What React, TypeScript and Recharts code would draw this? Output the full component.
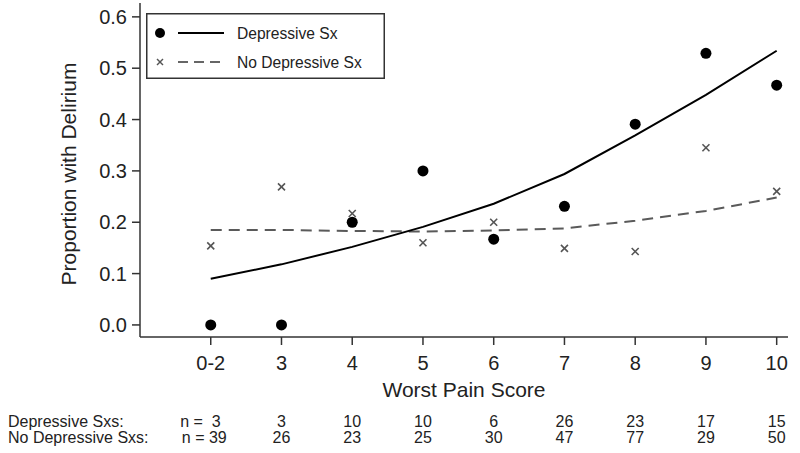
import React from 'react';
import { ComposedChart, Line, XAxis, YAxis } from 'recharts';

const categories = ['0-2', '3', '4', '5', '6', '7', '8', '9', '10'];
const depObserved = [0, 0, 0.2, 0.3, 0.167, 0.231, 0.391, 0.529, 0.467];
const noDepObserved = [0.154, 0.269, 0.217, 0.16, 0.2, 0.149, 0.143, 0.345, 0.26];
const depFitted = [0.09, 0.118, 0.152, 0.191, 0.236, 0.294, 0.369, 0.448, 0.534];
const noDepFitted = [0.185, 0.185, 0.183, 0.182, 0.184, 0.188, 0.203, 0.222, 0.248];
const depN = [3, 3, 10, 10, 6, 26, 23, 17, 15];
const noDepN = [39, 26, 23, 25, 30, 47, 77, 29, 50];
const yTicks = [0, 0.1, 0.2, 0.3, 0.4, 0.5, 0.6];
const legendLabels = ['Depressive Sx', 'No Depressive Sx'];

const data = categories.map((c, i) => ({
  x: i,
  dep: depObserved[i],
  noDep: noDepObserved[i],
  depFit: depFitted[i],
  noDepFit: noDepFitted[i],
}));

const FONT = '"Liberation Sans", Arial, Helvetica, sans-serif';
const AXIS = '#333';
const TEXT = '#222';

const DotMark = (props: any) => {
  const { cx, cy, index } = props;
  if (cx == null || cy == null) return <g key={`d${index}`} />;
  return <circle key={`d${index}`} cx={cx} cy={cy} r={5.5} fill="#000" />;
};

const CrossMark = (props: any) => {
  const { cx, cy, index } = props;
  if (cx == null || cy == null) return <g key={`c${index}`} />;
  const s = 3.5;
  return (
    <g key={`c${index}`} stroke="#555" strokeWidth={1.6}>
      <line x1={cx - s} y1={cy - s} x2={cx + s} y2={cy + s} />
      <line x1={cx - s} y1={cy + s} x2={cx + s} y2={cy - s} />
    </g>
  );
};

const XTick = (props: any) => {
  const { x, y, payload } = props;
  const i = payload.value as number;
  const common = { fontFamily: FONT, fill: TEXT } as any;
  return (
    <g>
      <text x={x} y={y + 14} textAnchor="middle" fontSize={20} {...common}>
        {categories[i]}
      </text>
      {i === 0 ? (
        <>
          <text x={8} y={y + 70.7} textAnchor="start" fontSize={16} {...common}>
            Depressive Sxs:
          </text>
          <text x={8} y={y + 87} textAnchor="start" fontSize={16} {...common}>
            No Depressive Sxs:
          </text>
          <text x={x + 10} y={y + 70.7} textAnchor="end" fontSize={16} style={{ whiteSpace: 'pre' }} {...common}>
            {`n =  ${depN[i]}`}
          </text>
          <text x={x + 16} y={y + 87} textAnchor="end" fontSize={16} style={{ whiteSpace: 'pre' }} {...common}>
            {`n = ${noDepN[i]}`}
          </text>
        </>
      ) : (
        <>
          <text x={x} y={y + 70.7} textAnchor="middle" fontSize={16} {...common}>
            {depN[i]}
          </text>
          <text x={x} y={y + 87} textAnchor="middle" fontSize={16} {...common}>
            {noDepN[i]}
          </text>
        </>
      )}
    </g>
  );
};

const LegendBox = () => (
  <g transform="translate(146, 13)">
    <rect x={0.75} y={0.75} width={237.5} height={64.5} fill="#fff" stroke={AXIS} strokeWidth={1.5} />
    <circle cx={14} cy={20} r={5} fill="#000" />
    <line x1={32} y1={20} x2={78} y2={20} stroke="#000" strokeWidth={2} />
    <text x={91} y={25.5} fontSize={15.6} fontFamily={FONT} fill={TEXT}>{legendLabels[0]}</text>
    <g stroke="#555" strokeWidth={1.4}>
      <line x1={11} y1={46} x2={17} y2={52} />
      <line x1={11} y1={52} x2={17} y2={46} />
    </g>
    <line x1={32} y1={49} x2={78} y2={49} stroke="#666" strokeWidth={2} strokeDasharray="10 6" />
    <text x={91} y={54.5} fontSize={15.6} fontFamily={FONT} fill={TEXT}>{legendLabels[1]}</text>
  </g>
);

export default function App() {
  return (
    <div style={{ position: 'absolute', left: 0, top: 0, width: 800, height: 453, background: '#fff' }}>
      <ComposedChart width={800} height={453} data={data} margin={{ top: 3, right: 12, left: 0, bottom: 0 }}>
        <XAxis
          dataKey="x"
          type="number"
          domain={[-1, 8.16]}
          ticks={[0, 1, 2, 3, 4, 5, 6, 7, 8]}
          interval={0}
          allowDataOverflow
          height={116}
          tickSize={8}
          tickMargin={11}
          tick={<XTick />}
          axisLine={{ stroke: AXIS, strokeWidth: 1.5 }}
          tickLine={{ stroke: AXIS, strokeWidth: 1.5 }}
          label={{
            value: 'Worst Pain Score',
            position: 'insideTop',
            offset: 45,
            fontSize: 21,
            fontFamily: FONT,
            fill: TEXT,
          }}
        />
        <YAxis
          type="number"
          domain={[-0.0235, 0.627]}
          ticks={yTicks}
          allowDataOverflow
          width={140}
          tickSize={8}
          tickMargin={5}
          tickFormatter={(v: number) => v.toFixed(1)}
          tick={{ fontSize: 20, fontFamily: FONT, fill: TEXT }}
          axisLine={{ stroke: AXIS, strokeWidth: 1.5 }}
          tickLine={{ stroke: AXIS, strokeWidth: 1.5 }}
        />
        <text
          x={76}
          y={174}
          transform="rotate(-90, 76, 174)"
          textAnchor="middle"
          fontSize={21}
          fontFamily={FONT}
          fill={TEXT}
        >
          Proportion with Delirium
        </text>
        <Line
          dataKey="noDepFit"
          type="linear"
          stroke="#5a5a5a"
          strokeWidth={2}
          strokeDasharray="11 7"
          dot={false}
          activeDot={false}
          legendType="none"
          isAnimationActive={false}
        />
        <Line
          dataKey="depFit"
          type="linear"
          stroke="#000"
          strokeWidth={2}
          dot={false}
          activeDot={false}
          legendType="none"
          isAnimationActive={false}
        />
        <Line
          dataKey="noDep"
          stroke="none"
          dot={CrossMark}
          activeDot={false}
          legendType="none"
          isAnimationActive={false}
        />
        <Line
          dataKey="dep"
          stroke="none"
          dot={DotMark}
          activeDot={false}
          legendType="none"
          isAnimationActive={false}
        />
        <LegendBox />
      </ComposedChart>
    </div>
  );
}
